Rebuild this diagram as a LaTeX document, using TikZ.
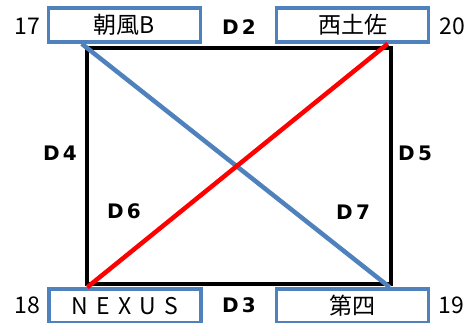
\documentclass[tikz,border=0pt]{standalone}
\usepackage{fontspec}
\setmainfont{Noto Sans CJK JP}
\newfontfamily\dfont{DejaVu Sans}
\usepackage{xcolor}
\usetikzlibrary{calc}
\definecolor{boxblue}{RGB}{79,129,189}
\tikzset{
  namebox/.style={
    draw = boxblue,
    line width = 3.5pt,
    minimum width = 152pt,
    minimum height = 34pt,
    inner sep = 0pt,
    font = \fontsize{23}{25}\selectfont
  },
  idlabel/.style={
    inner sep = 0pt,
    font = \fontsize{23}{25}\selectfont
  },
  dlabel/.style={
    inner sep = 0pt,
    font = \dfont\bfseries\fontsize{20}{22}\selectfont
  },
  route/.style={
    line width = 4.5pt
  },
  every picture/.style = {
    x=1pt, y=-1pt
  }
}

\begin{document}
\begin{tikzpicture}
        \useasboundingbox (0,0) rectangle (470,322);
        % station boxes
        \node[namebox] (asakaze) at (124.5,25) {朝風B};
        \node[namebox] (nishitosa) at (352.5,25) {西土佐};
        \node[namebox] (nexus) at (125,306) {\addfontfeature{LetterSpace=36}NEXUS};
        \node[namebox] (daiyon) at (352.5,306) {第四};
        % numbers
        \node[idlabel] (n17) at (27,26) {17};
        \node[idlabel] (n20) at (452,26) {20};
        \node[idlabel] (n18) at (27,305) {18};
        \node[idlabel] (n19) at (451,305) {19};
        % rectangle
        \coordinate (tl) at (87,48);
        \coordinate (tr) at (391,48);
        \coordinate (br) at (391,284);
        \coordinate (bl) at (87,284);
        \draw[route, line join=miter] (tl) -- (tr) -- (br) -- (bl) -- cycle;
        % diagonals
        \coordinate (bstart) at ([xshift=35pt]asakaze.south west);
        \coordinate (bend) at ([xshift=115pt]daiyon.north west);
        \coordinate (rstart) at ([xshift=40pt]nexus.north west);
        \coordinate (rend) at ([xshift=113pt]nishitosa.south west);
        \draw[route, boxblue] (bstart) -- (bend);
        \draw[route, red] (rstart) -- (rend);
        % distances
        \node[dlabel] (d2) at (239,27) {D\,2};
        \node[dlabel] (d3) at (239,305) {D\,3};
        \node[dlabel] (d4) at (60,153) {D\,4};
        \node[dlabel] (d5) at (415,153) {D\,5};
        \node[dlabel] (d6) at (124,211) {D\,6};
        \node[dlabel] (d7) at (353,212) {D\,7};
    \end{tikzpicture}
\end{document}
